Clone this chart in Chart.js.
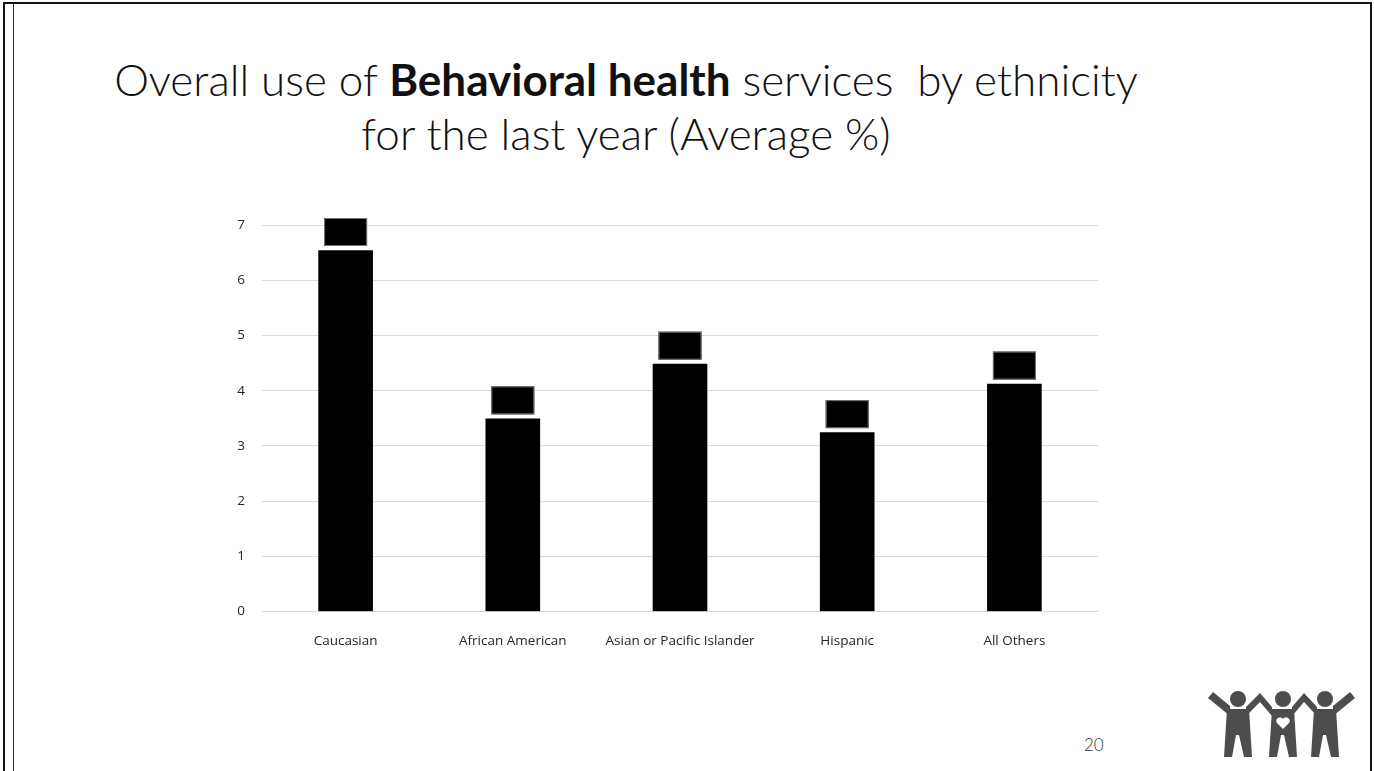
<!DOCTYPE html>
<html>
<head>
<meta charset="utf-8">
<script src="https://cdn.jsdelivr.net/npm/chart.js@4.4.1/dist/chart.umd.min.js"></script>
<style>
  html, body { margin: 0; padding: 0; background: #fff; }
  body { width: 1374px; height: 771px; position: relative; overflow: hidden; font-family: "Lato", "Open Sans", sans-serif; }
  .frame-top { position: absolute; left: 3px; top: 2px; width: 1369px; height: 2px; background: #111; }
  .frame-left { position: absolute; left: 3px; top: 2px; width: 2px; height: 769px; background: #111; }
  .frame-left2 { position: absolute; left: 13px; top: 4px; width: 1px; height: 767px; background: #333; }
  .frame-right { position: absolute; left: 1370px; top: 2px; width: 2px; height: 769px; background: #111; }
  #title { position: absolute; left: 0; top: 52px; width: 1252px; text-align: center; font-size: 44px; line-height: 54px; font-weight: 300; color: #111; }
  #title b { font-weight: 700; }
  #wrap { position: absolute; left: 200px; top: 200px; width: 910px; height: 460px; }
  #page { position: absolute; left: 1084px; top: 734px; font-size: 17px; color: #333; font-weight: 300; }
  #logo { position: absolute; left: 1205px; top: 685px; }
</style>
</head>
<body>
<div class="frame-top"></div>
<div class="frame-left"></div>
<div class="frame-left2"></div>
<div class="frame-right"></div>
<div id="title">Overall use of <b>Behavioral health</b> services&nbsp; by ethnicity<br>for the last year (Average %)</div>
<div id="wrap"><canvas id="chart"></canvas></div>
<div id="page">20</div>
<svg id="logo" width="150" height="76" viewBox="0 0 150 76">
  <g fill="#4d4d4d">
    <circle cx="33" cy="14" r="8"/>
    <circle cx="78" cy="14" r="8"/>
    <circle cx="120" cy="14" r="8"/>
    <!-- arms -->
    <polygon points="8,7 25,21 25,31 3,13"/>
    <polygon points="41,22 55,8 67,22 67,31 55,17 41,31"/>
    <polygon points="87,22 99,8 112,22 112,31 99,17 87,31"/>
    <polygon points="128,21 145,7 150,13 128,31"/>
    <!-- bodies and legs -->
    <polygon points="22,24 44,24 47,72 39,72 34,50 31,50 27,72 19,72"/>
    <polygon points="67,24 89,24 92,72 84,72 79,50 76,50 72,72 64,72"/>
    <polygon points="109,24 131,24 134,72 126,72 121,50 118,50 114,72 106,72"/>
  </g>
  <path d="M78 44 l-6 -6 a3.4 3.4 0 0 1 6 -4 a3.4 3.4 0 0 1 6 4 z" fill="#fff"/>
</svg>
<script>
// chart data
const categories = ['Caucasian', 'African American', 'Asian or Pacific Islander', 'Hispanic', 'All Others'];
const averages = [6.54, 3.49, 4.48, 3.24, 4.12];
const yTicks = [0, 1, 2, 3, 4, 5, 6, 7];

// black label boxes above each bar
const labelBoxes = {
    id: 'labelBoxes',
    afterDatasetsDraw(chart) {
        const ctx = chart.ctx;
        chart.getDatasetMeta(0).data.forEach(bar => {
            const w = 43, h = 28;
            const x = bar.x - w / 2;
            const y = bar.y - 4.5 - h;
            ctx.save();
            ctx.fillStyle = '#000';
            ctx.fillRect(x, y, w, h);
            ctx.strokeStyle = '#777';
            ctx.lineWidth = 1;
            ctx.strokeRect(x + 0.5, y + 0.5, w - 1, h - 1);
            ctx.restore();
        });
    }
};

new Chart(document.getElementById('chart'), {
    type: 'bar',
    data: {
        labels: categories,
        datasets: [{
            data: averages,
            backgroundColor: '#000',
            borderWidth: 0,
            barThickness: 54
        }]
    },
    options: {
        responsive: true,
        maintainAspectRatio: false,
        animation: false,
        layout: { padding: { top: 23, right: 12, left: 0, bottom: 0 } },
        plugins: { legend: { display: false }, tooltip: { enabled: false } },
        scales: {
            x: {
                grid: { display: false },
                border: { color: '#d9d9d9' },
                ticks: { color: '#262626', font: { family: 'Open Sans', size: 13.5 }, padding: 14, maxRotation: 0 },
                afterFit(scale) { scale.height = 48.5; }
            },
            y: {
                min: 0,
                max: 7,
                afterBuildTicks(scale) { scale.ticks = yTicks.map(v => ({ value: v })); },
                grid: { color: '#d9d9d9', drawTicks: false },
                border: { display: false },
                ticks: { color: '#262626', font: { family: 'Open Sans', size: 13.5 }, padding: 17 },
                afterFit(scale) { scale.width = 62; }
            }
        }
    },
    plugins: [labelBoxes]
});
</script>
</body>
</html>
